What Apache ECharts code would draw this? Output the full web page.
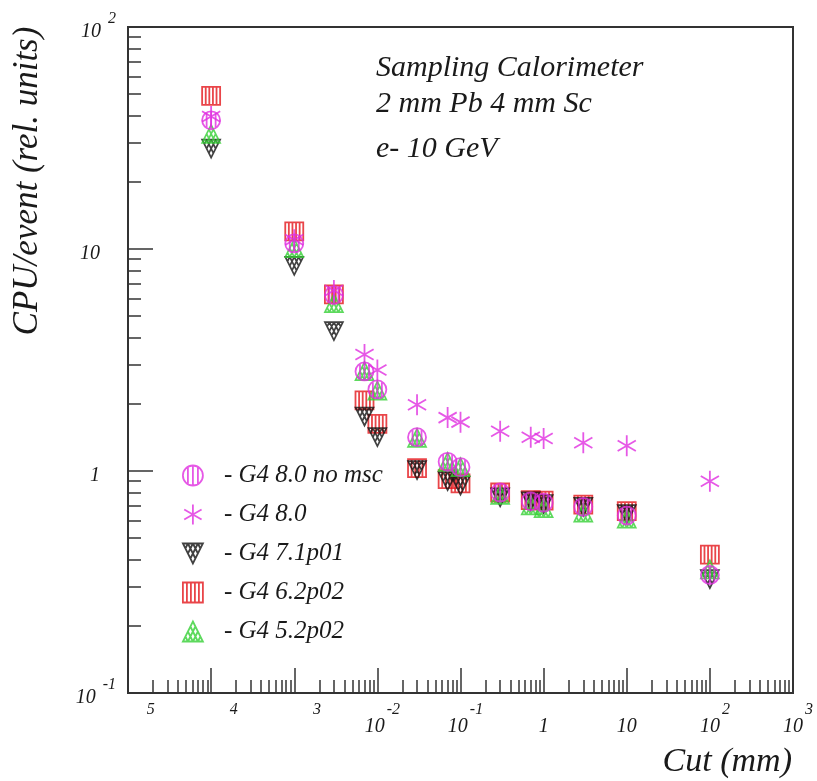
<!DOCTYPE html>
<html>
<head>
<meta charset="utf-8">
<script src="https://cdn.jsdelivr.net/npm/echarts@6/dist/echarts.min.js"></script>
<style>
  html, body { margin:0; padding:0; background:#fff; }
  #chart { width:817px; height:781px; }
</style>
</head>
<body>
<div id="chart"></div>
<script>
// production cut (mm)
const cutValues = [1e-4, 1e-3, 3e-3, 7e-3, 1e-2, 3e-2, 7e-2, 0.1, 0.3, 0.7, 1, 3, 10, 100];

// CPU/event, rel. units
const g4_80_nomsc = [38, 10.6, 6.2, 2.81, 2.33, 1.42, 1.10, 1.04, 0.80, 0.73, 0.72, 0.69, 0.63, 0.34];
const g4_80       = [39.5, 11, 6.5, 3.35, 2.85, 1.99, 1.74, 1.66, 1.51, 1.42, 1.40, 1.34, 1.30, 0.90];
const g4_71p01    = [28.3, 8.4, 4.27, 1.76, 1.42, 1.01, 0.90, 0.86, 0.76, 0.73, 0.71, 0.69, 0.64, 0.326];
const g4_62p02    = [49, 12.0, 6.24, 2.08, 1.63, 1.03, 0.92, 0.88, 0.80, 0.74, 0.735, 0.705, 0.66, 0.42];
const g4_52p02    = [33, 10.1, 5.7, 2.82, 2.30, 1.41, 1.10, 1.04, 0.78, 0.70, 0.68, 0.65, 0.61, 0.36];

// axis decades (powers of ten)
const xDecades = [-5, -4, -3, -2, -1, 0, 1, 2, 3];
const yDecades = [-1, 0, 1, 2];

const majors = d => d.map(k => Math.pow(10, k));
const minors = d => {
  const out = [];
  for (let i = 0; i < d.length - 1; i++)
    for (let m = 2; m <= 9; m++) out.push(m * Math.pow(10, d[i]));
  return out;
};

// marker shapes, outline + hatch like the old PAW fill styles
const SQUARE = 'path://M0,0L18,0L18,18L0,18Z M3.6,0L3.6,18 M7.2,0L7.2,18 M10.8,0L10.8,18 M14.4,0L14.4,18';
const CIRCLE = 'path://M9,0A9,9,0,1,1,9,18A9,9,0,1,1,9,0Z M4.5,1.2L4.5,16.8 M9,0L9,18 M13.5,1.2L13.5,16.8';
const TRI_DN = 'path://M0,0L18,0L9,18Z M4.5,0L2.25,4.5 M4.5,0L11.25,13.5 M9,0L4.5,9 M9,0L13.5,9 M13.5,0L6.75,13.5 M13.5,0L15.75,4.5';
const TRI_UP = 'path://M9,0L18,18L0,18Z M4.5,18L2.25,13.5 M4.5,18L11.25,4.5 M9,18L4.5,9 M9,18L13.5,9 M13.5,18L6.75,4.5 M13.5,18L15.75,13.5';
const STAR   = 'path://M9,0L9,18 M1.2,4.5L16.8,13.5 M1.2,13.5L16.8,4.5';

const SERIF = '"Liberation Serif", "DejaVu Serif", serif';
const INK = '#1a1a1a';
const AXIS = '#333';

const pts = ys => cutValues.map((x, i) => [x, ys[i]]);

function scatter(name, ys, symbol, color, lw, size) {
  return {
    name, type: 'scatter', data: pts(ys),
    symbol, symbolSize: size || 18, symbolKeepAspect: true,
    itemStyle: { color: 'rgba(0,0,0,0)', borderColor: color, borderWidth: lw },
    emphasis: { disabled: true }
  };
}

const txt = size => ({ fontFamily: SERIF, fontStyle: 'italic', fontSize: size, color: INK });

const chart = echarts.init(document.getElementById('chart'), null, { renderer: 'canvas' });
chart.setOption({
  animation: false,
  backgroundColor: '#fff',
  grid: { left: 128, right: 24, top: 27, bottom: 88, show: true, borderColor: AXIS, borderWidth: 2 },
  xAxis: [
    {
      type: 'log', logBase: 10, min: 1e-5, max: 1e3, position: 'bottom',
      axisLine: { show: false }, splitLine: { show: false },
      axisTick: { inside: true, length: 25, lineStyle: { color: AXIS, width: 1.5 }, customValues: majors(xDecades) },
      axisLabel: {
        margin: 16, showMinLabel: true, showMaxLabel: true, customValues: majors(xDecades),
        formatter: v => {
          const k = Math.round(Math.log10(v));
          if (k <= -3) return '{xh|10}{xsh|-}{xs|' + (-k) + '}';
          if (k === 0) return '{xp|1}';
          if (k === 1) return '{xp|10}';
          return '{xb|10}{xs|' + k + '}';
        },
        rich: {
          xb:  { ...txt(20), lineHeight: 20, padding: [15, 0, 0, 10] },
          xh:  { ...txt(20), color: 'rgba(0,0,0,0)', lineHeight: 20, padding: [15, 0, 0, 10] },
          xp:  { ...txt(20), lineHeight: 20, padding: [15, 0, 0, 0] },
          xs:  { ...txt(16), lineHeight: 16, padding: [0, 0, 19, 2] },
          xsh: { ...txt(16), color: 'rgba(0,0,0,0)', lineHeight: 16, padding: [0, 0, 19, 8] }
        }
      }
    },
    {
      type: 'log', logBase: 10, min: 1e-5, max: 1e3, position: 'bottom',
      axisLine: { show: false }, splitLine: { show: false }, axisLabel: { show: false },
      axisTick: { inside: true, length: 13, lineStyle: { color: AXIS, width: 1.5 }, customValues: minors(xDecades) }
    }
  ],
  yAxis: [
    {
      type: 'log', logBase: 10, min: 0.1, max: 100, position: 'left',
      axisLine: { show: false }, splitLine: { show: false },
      axisTick: { inside: true, length: 25, lineStyle: { color: AXIS, width: 1.5 }, customValues: majors(yDecades) },
      axisLabel: {
        margin: 12, showMinLabel: true, showMaxLabel: true, customValues: majors(yDecades),
        formatter: v => {
          const k = Math.round(Math.log10(v));
          if (k === 0) return '{bp|1}';
          if (k === 1) return '{bp|10}';
          return '{b|10}{s|' + k + '}';
        },
        rich: {
          b:  { ...txt(20), lineHeight: 20, padding: [10, 0, 0, 0] },
          bp: { ...txt(20), lineHeight: 20, padding: [10, 16, 0, 0] },
          s:  { ...txt(16), lineHeight: 16, padding: [0, 0, 16, 7] }
        }
      }
    },
    {
      type: 'log', logBase: 10, min: 0.1, max: 100, position: 'left',
      axisLine: { show: false }, splitLine: { show: false }, axisLabel: { show: false },
      axisTick: { inside: true, length: 13, lineStyle: { color: AXIS, width: 1.5 }, customValues: minors(yDecades) }
    }
  ],
  legend: {
    orient: 'vertical', left: 177, top: 458,
    itemWidth: 20, itemHeight: 20, itemGap: 14,
    selectedMode: false,
    itemStyle: { borderWidth: 1.8 },
    textStyle: { ...txt(25), lineHeight: 25, padding: [0, 0, 0, 16] },
    formatter: n => '- ' + n,
    data: ['G4 8.0 no msc', 'G4 8.0', 'G4 7.1p01', 'G4 6.2p02', 'G4 5.2p02']
  },
  series: [
    scatter('G4 6.2p02',     g4_62p02,    SQUARE, '#e3161b', 1.8),
    scatter('G4 7.1p01',     g4_71p01,    TRI_DN, '#111111', 1.7),
    scatter('G4 5.2p02',     g4_52p02,    TRI_UP, '#35d035', 1.7),
    scatter('G4 8.0 no msc', g4_80_nomsc, CIRCLE, '#e02ee0', 1.8),
    scatter('G4 8.0',        g4_80,       STAR,   '#e02ee0', 1.8, 21)
  ],
  graphic: [
    { type: 'text', x: 28, y: 181, rotation: Math.PI / 2,
      style: { text: 'CPU/event (rel. units)', font: 'italic 35px ' + SERIF, fill: INK,
               align: 'center', verticalAlign: 'middle', textAlign: 'center', textVerticalAlign: 'middle' } },
    { type: 'text', x: 792, y: 762,
      style: { text: 'Cut (mm)', font: 'italic 34px ' + SERIF, fill: INK,
               align: 'right', verticalAlign: 'middle', textAlign: 'right', textVerticalAlign: 'middle' } },
    { type: 'text', x: 376, y: 68,
      style: { text: 'Sampling Calorimeter', font: 'italic 30px ' + SERIF, fill: INK,
               align: 'left', verticalAlign: 'middle', textAlign: 'left', textVerticalAlign: 'middle' } },
    { type: 'text', x: 376, y: 104,
      style: { text: '2 mm Pb 4 mm Sc', font: 'italic 30px ' + SERIF, fill: INK,
               align: 'left', verticalAlign: 'middle', textAlign: 'left', textVerticalAlign: 'middle' } },
    { type: 'text', x: 376, y: 149,
      style: { text: 'e- 10 GeV', font: 'italic 30px ' + SERIF, fill: INK,
               align: 'left', verticalAlign: 'middle', textAlign: 'left', textVerticalAlign: 'middle' } }
  ]
});
</script>
</body>
</html>
